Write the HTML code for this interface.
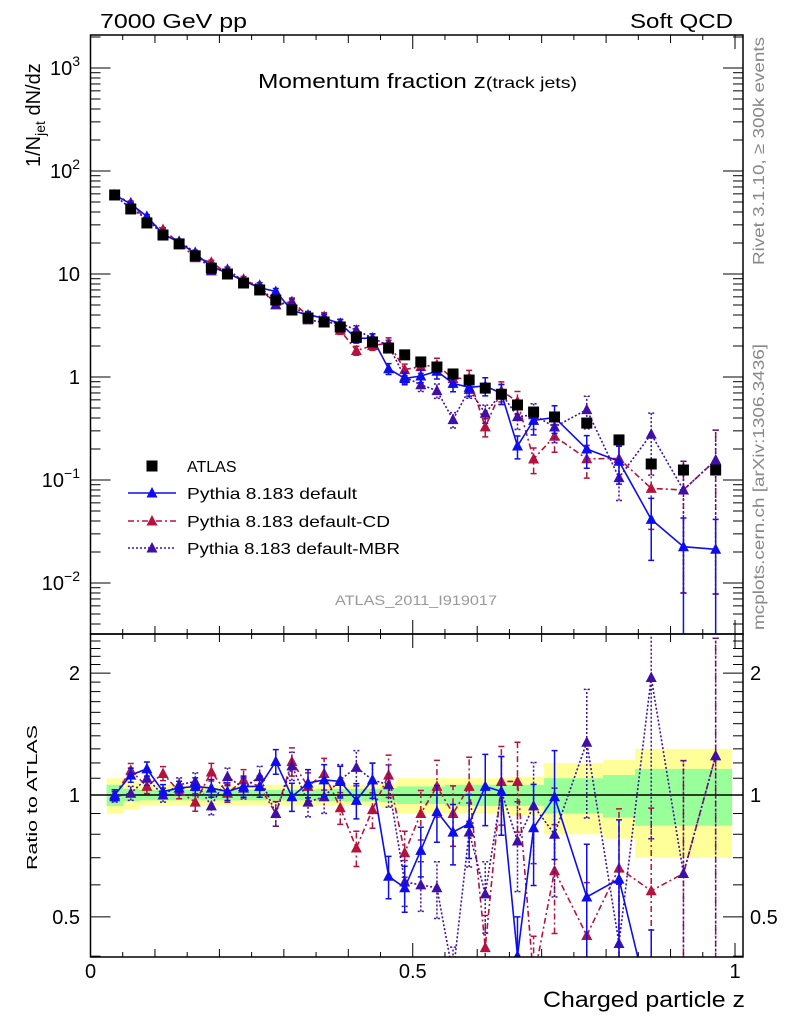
<!DOCTYPE html>
<html><head><meta charset="utf-8"><style>
html,body{margin:0;padding:0;background:#fff;overflow:hidden;width:786px;height:1024px;}
svg{display:block;font-family:"Liberation Sans",sans-serif;}
</style></head><body>
<svg id="chart" width="786" height="1024" viewBox="0 0 786 1024" xmlns="http://www.w3.org/2000/svg">
<text x="100" y="28" font-size="20" textLength="147" lengthAdjust="spacingAndGlyphs">7000 GeV pp</text>
<text x="630" y="28" font-size="20" textLength="103" lengthAdjust="spacingAndGlyphs">Soft QCD</text>
<text x="258" y="88" font-size="20" textLength="319" lengthAdjust="spacingAndGlyphs">Momentum fraction z<tspan font-size="16">(track jets)</tspan></text>
<text transform="translate(40,167) rotate(-90)" font-size="20">1/N<tspan font-size="14" dy="5">jet</tspan><tspan dy="-5"> dN/dz</tspan></text>
<text transform="translate(37,870) rotate(-90)" font-size="15" textLength="145" lengthAdjust="spacingAndGlyphs">Ratio to ATLAS</text>
<text x="543" y="1007" font-size="22" textLength="202" lengthAdjust="spacingAndGlyphs">Charged particle z</text>
<text transform="translate(764,265) rotate(-90)" font-size="16" fill="#888" textLength="228" lengthAdjust="spacingAndGlyphs">Rivet 3.1.10, ≥ 300k events</text>
<text transform="translate(764,630) rotate(-90)" font-size="16" fill="#888" textLength="286" lengthAdjust="spacingAndGlyphs">mcplots.cern.ch [arXiv:1306.3436]</text>
<text x="335" y="605" font-size="14" fill="#999" textLength="162" lengthAdjust="spacingAndGlyphs">ATLAS_2011_I919017</text>
<g id="g"></g>
</svg>
<script>
const zc = [0.0375,0.0625,0.0875,0.1125,0.1375,0.1625,0.1875,0.2125,0.2375,0.2625,0.2875,0.3125,0.3375,0.3625,0.3875,0.4125,0.4375,0.4625,0.4875,0.5125,0.5375,0.5625,0.5875,0.6125,0.6375,0.6625,0.6875,0.72,0.77,0.82,0.87,0.92,0.97];
const atlas = [58.5,42.8,31.3,23.9,19.6,15.0,11.4,10.0,8.18,7.0,5.59,4.47,3.74,3.42,3.06,2.44,2.19,1.91,1.64,1.40,1.25,1.07,0.935,0.78,0.68,0.535,0.457,0.409,0.357,0.245,0.143,0.125,0.125];
const ratioDefault = [1.0,1.12,1.16,1.02,1.04,1.05,1.04,1.02,1.05,1.05,1.21,0.99,1.07,1.09,1.08,0.97,1.09,0.63,0.59,0.73,0.91,0.81,0.85,1.05,1.02,0.40,0.83,0.99,0.56,0.62,0.29,0.18,0.17];
const ratioCD = [1.0,1.15,1.05,1.13,1.02,0.96,1.14,1.01,1.09,1.05,0.90,1.21,1.05,1.13,0.93,0.74,0.92,1.12,0.72,0.90,1.05,0.90,1.05,0.42,1.08,1.08,0.35,0.65,0.45,0.66,0.58,0.64,1.25];
const ratioMBR = [0.99,1.01,1.10,1.0,1.06,1.08,0.94,1.11,1.04,1.11,0.90,1.18,0.96,0.99,1.09,1.17,1.09,1.06,0.61,0.60,0.59,0.36,0.81,0.57,1.02,0.77,0.94,0.80,1.35,0.43,1.95,0.64,1.25];
const modelErr = [0.03,0.04,0.04,0.04,0.04,0.05,0.05,0.05,0.06,0.06,0.07,0.08,0.08,0.09,0.09,0.1,0.1,0.12,0.13,0.14,0.16,0.17,0.18,0.2,0.22,0.25,0.28,0.3,0.35,0.4,0.6,0.9,0.95];
const atlasTotErr = [0.10,0.08,0.06,0.06,0.06,0.06,0.06,0.06,0.06,0.06,0.06,0.06,0.06,0.06,0.06,0.06,0.06,0.07,0.10,0.10,0.10,0.10,0.10,0.10,0.10,0.11,0.11,0.20,0.20,0.22,0.30,0.30,0.30];
const atlasStatErr = [0.06,0.035,0.03,0.03,0.03,0.03,0.03,0.03,0.03,0.03,0.03,0.03,0.03,0.035,0.035,0.035,0.035,0.04,0.05,0.05,0.05,0.06,0.06,0.06,0.06,0.06,0.06,0.10,0.10,0.12,0.16,0.16,0.16];
const mainTicks = ["10<sup>-2</sup>","10<sup>-1</sup>","1","10","10<sup>2</sup>","10<sup>3</sup>"];
const ratioTickVals = [0.5,1,2];
const xTickVals = [0,0.5,1];

const NS="http://www.w3.org/2000/svg";
const g=document.getElementById('g');
const L=90.5, R=743, XT=735, T=35, MB=634, RB=957;
function X(z){return L+(XT-L)*z;}
function YM(v){return 377-103*Math.log10(v);}
function YR(r){return 795-405*Math.log10(r);}
function mk(tag,attrs,parent){const e=document.createElementNS(NS,tag);for(const k in attrs)e.setAttribute(k,attrs[k]);(parent||g).appendChild(e);return e;}

const defs=mk('defs',{});
const c1=mk('clipPath',{id:'cm'},defs);mk('rect',{x:L,y:T,width:R-L,height:MB-T},c1);
const c2=mk('clipPath',{id:'cr'},defs);mk('rect',{x:L,y:MB,width:R-L,height:RB-MB},c2);
const gm=mk('g',{'clip-path':'url(#cm)'});
const gr=mk('g',{'clip-path':'url(#cr)'});

const edges=[zc[0]-0.0125];
for(let i=0;i<zc.length-1;i++)edges.push((zc[i]+zc[i+1])/2);
edges.push(zc[zc.length-1]+0.025);

function band(errs,color,name){
  for(let i=0;i<zc.length;i++){
    const r=mk('rect',{x:X(edges[i]),y:YR(1+errs[i]),width:X(edges[i+1])-X(edges[i])+0.3,height:YR(1-errs[i])-YR(1+errs[i]),fill:color},gr);
    
    
  }
}
band(atlasTotErr,'#ffff99','ratio-band-total');
band(atlasStatErr,'#99ff99','ratio-band-stat');
const ref=mk('line',{x1:L,x2:R,y1:YR(1),y2:YR(1),stroke:'#000','stroke-width':1.5},gr);



function tri(x,y,color,parent){return mk('polygon',{points:`${x},${y-6} ${x-5.5},${y+4.5} ${x+5.5},${y+4.5}`,fill:color},parent);}
function series(ratios,color,dash,name){
  [[gm,YM,true],[gr,YR,false]].forEach(([par,Y,isMain])=>{
    const vals=ratios.map((r,i)=>isMain?r*atlas[i]:r);
    const pts=vals.map((v,i)=>`${X(zc[i])},${Y(v)}`).join(' ');
    const pl=mk('polyline',{points:pts,fill:'none',stroke:color,'stroke-width':1.6,'stroke-dasharray':dash},par);
    
    
    vals.forEach((v,i)=>{
      const x=X(zc[i]);const lo=Math.max(v*(1-modelErr[i]),1e-5),hi=v*(1+modelErr[i]);
      const eb=mk('path',{d:`M${x},${Y(lo)}V${Y(hi)}M${x-3},${Y(lo)}h6M${x-3},${Y(hi)}h6`,stroke:color,'stroke-width':1.5,fill:'none','stroke-dasharray':dash},par);
      
      
      const t=tri(x,Y(v),color,par);
      
      
    });
  });
}
series(ratioCD,'#b5123e','6,3,2,3','pythia-default-cd');
series(ratioMBR,'#3f0fa8','2,2','pythia-default-mbr');
series(ratioDefault,'#0d0df0','','pythia-default');
atlas.forEach((v,i)=>{
  const s=mk('rect',{x:X(zc[i])-5.5,y:YM(v)-5.5,width:11,height:11,fill:'#000'},gm);
  
  
});

const f1=mk('rect',{x:L,y:T,width:R-L,height:MB-T,fill:'none',stroke:'#000','stroke-width':1.5});


const f2=mk('rect',{x:L,y:MB,width:R-L,height:RB-MB,fill:'none',stroke:'#000','stroke-width':1.5});



for(let k=0;k<=20;k++){
  const z=k*0.05,x=X(z);const len=k%10===0?14:(k%2===0?8:5);
  [T,MB].forEach(y0=>mk('line',{x1:x,x2:x,y1:y0,y2:y0+len,stroke:'#000','stroke-width':1}));
  [MB,RB].forEach(y0=>mk('line',{x1:x,x2:x,y1:y0,y2:y0-len,stroke:'#000','stroke-width':1}));
}
xTickVals.forEach(v=>{
  const t=mk('text',{x:X(v),y:978,'font-size':20,'text-anchor':'middle'});
  t.textContent=String(v);
  
  
});
for(let d=-3;d<=3;d++){
  for(let m=1;m<=9;m++){
    const v=m*Math.pow(10,d),y=YM(v);
    if(y<T||y>MB)continue;
    const len=m===1?20:10;
    mk('line',{x1:L,x2:L+len,y1:y,y2:y,stroke:'#000','stroke-width':1});
    mk('line',{x1:R,x2:R-len,y1:y,y2:y,stroke:'#000','stroke-width':1});
  }
}
mainTicks.forEach((lab,i)=>{
  const y=YM(Math.pow(10,i-2));
  const t=mk('text',{x:80,y:y+7,'font-size':20,'text-anchor':'end'});
  if(lab.indexOf('<sup>')>=0){
    const p=lab.split('<sup>');const b=p[0],e=p[1].replace('</sup>','');
    t.textContent=b;
    const ts=mk('tspan',{dy:-9,'font-size':14},t);ts.textContent=e.replace('-','\u2212');
  } else t.textContent=lab;
  
  
});
for(let k=4;k<=25;k++){
  const v=k/10,y=YR(v);if(y<MB||y>RB)continue;
  const major=(v===0.5||v===1||v===2);const len=major?20:10;
  mk('line',{x1:L,x2:L+len,y1:y,y2:y,stroke:'#000','stroke-width':1});
  mk('line',{x1:R,x2:R-len,y1:y,y2:y,stroke:'#000','stroke-width':1});
}
ratioTickVals.forEach(v=>{
  [[80,'end'],[750,'start']].forEach(([x,a])=>{
    const t=mk('text',{x:x,y:YR(v)+7,'font-size':20,'text-anchor':a});
    t.textContent=String(v);
    
    
  });
});

const lg=mk('g',{});


const ls=mk('rect',{x:146.5,y:460.5,width:11,height:11,fill:'#000'},lg);


const lt=mk('text',{x:187,y:472,'font-size':16},lg);lt.textContent='ATLAS';


const legItems=[['Pythia 8.183 default','#0d0df0','',493,170],['Pythia 8.183 default-CD','#b5123e','6,3,2,3',521,203],['Pythia 8.183 default-MBR','#3f0fa8','2,2',548,213]];
legItems.forEach(([lab,c,d,y,w])=>{
  mk('line',{x1:128,x2:176,y1:y,y2:y,stroke:c,'stroke-width':1.6,'stroke-dasharray':d},lg);
  tri(152,y,c,lg);
  const t=mk('text',{x:187,y:y+6,'font-size':16,textLength:w,lengthAdjust:'spacingAndGlyphs'},lg);t.textContent=lab;
  
  
});
</script>
</body></html>
